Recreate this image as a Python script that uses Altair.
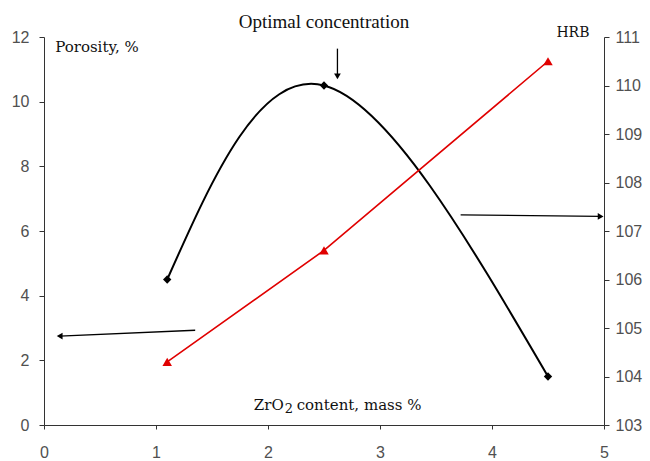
import altair as alt
import pandas as pd

# ---- data ----
zro2 = [1.1, 2.5, 4.5]
porosity = [4.5, 10.5, 1.5]
hrb = [104.3, 106.6, 110.5]

x_ticks = [0, 1, 2, 3, 4, 5]
left_ticks = [0, 2, 4, 6, 8, 10, 12]
right_ticks = [103, 104, 105, 106, 107, 108, 109, 110, 111]

# annotation arrows (in x / porosity units): tail -> head
arrow_x = [1.35, 3.72, 2.62]
arrow_y = [2.93, 6.5, 11.64]
arrow_x2 = [0.14, 4.97, 2.62]
arrow_y2 = [2.75, 6.45, 10.78]
arrow_shape = ["triangle-left", "triangle-right", "triangle-down"]

# annotation texts
label_text = ["Optimal concentration", "Porosity, %", "HRB"]
label_x = [2.5, 0.1, 4.87]
label_y = [12.45, 11.7, 12.13]
label_align = ["center", "left", "right"]
label_font = ["Liberation Serif", "DejaVu Serif", "DejaVu Serif"]
label_size = [19, 15, 14]

# x-axis title, written inside the plot with a true subscript
xtitle_parts = ["ZrO", "2", "content, mass %"]
xtitle_x = 2.14
xtitle_y = 0.62

df = pd.DataFrame({"x": zro2, "porosity": porosity, "hrb": hrb})
arrows = pd.DataFrame({"x": arrow_x, "y": arrow_y, "x2": arrow_x2, "y2": arrow_y2, "shape": arrow_shape})
labels = pd.DataFrame({"text": label_text, "x": label_x, "y": label_y, "align": label_align,
                       "font": label_font, "fs": label_size})
xtitle = pd.DataFrame({"part": xtitle_parts, "x": [xtitle_x] * 3, "y": [xtitle_y] * 3})

SANS = "Liberation Sans"
LBL = "#505050"

xscale = alt.Scale(domain=[0, 5], nice=False, zero=False)
lscale = alt.Scale(domain=[0, 12], nice=False, zero=False)
rscale = alt.Scale(domain=[103, 111], nice=False, zero=False)

xaxis = alt.Axis(values=x_ticks, format="d", title=None, grid=False, tickSize=4, labelPadding=15,
                 labelFont=SANS, labelFontSize=16, labelColor=LBL, domainColor="#333",
                 tickColor="#333", labelFlush=False)
laxis = alt.Axis(values=left_ticks, format="d", title=None, grid=False, tickSize=5, labelPadding=10,
                 labelFont=SANS, labelFontSize=16, labelColor=LBL, domainColor="#333",
                 tickColor="#333", orient="left")
raxis = alt.Axis(values=right_ticks, format="d", title=None, grid=False, tickSize=5, labelPadding=6,
                 labelFont=SANS, labelFontSize=16, labelColor=LBL, domainColor="#333",
                 tickColor="#333", orient="right")

base = alt.Chart(df)

por_line = base.mark_line(color="black", strokeWidth=2, interpolate="natural").encode(
    x=alt.X("x:Q", scale=xscale, axis=xaxis),
    y=alt.Y("porosity:Q", scale=lscale, axis=laxis),
)
por_pts = base.mark_point(shape="diamond", filled=True, color="black", size=70, opacity=1).encode(
    x=alt.X("x:Q", scale=xscale),
    y=alt.Y("porosity:Q", scale=lscale),
)

arrow_lines = alt.Chart(arrows).mark_rule(color="black", strokeWidth=1.3).encode(
    x=alt.X("x:Q", scale=xscale),
    y=alt.Y("y:Q", scale=lscale),
    x2="x2:Q",
    y2="y2:Q",
)
arrow_heads = alt.Chart(arrows).mark_point(filled=True, color="black", size=45, opacity=1).encode(
    x=alt.X("x2:Q", scale=xscale),
    y=alt.Y("y2:Q", scale=lscale),
    shape=alt.Shape("shape:N", scale=None),
)


def text_layer(al, fnt):
    return alt.Chart(labels).transform_filter(
        (alt.datum.align == al) & (alt.datum.font == fnt)
    ).mark_text(font=fnt, color="#111", baseline="middle", align=al).encode(
        x=alt.X("x:Q", scale=xscale),
        y=alt.Y("y:Q", scale=lscale),
        text="text:N",
        size=alt.Size("fs:Q", scale=None),
    )


text_layers = [text_layer(a, f) for a, f in sorted(set(zip(label_align, label_font)))]


def xtitle_layer(idx, **style):
    return alt.Chart(xtitle).transform_filter(alt.datum.part == xtitle_parts[idx]).mark_text(
        font="DejaVu Serif", color="#111", baseline="middle", **style
    ).encode(
        x=alt.X("x:Q", scale=xscale),
        y=alt.Y("y:Q", scale=lscale),
        text="part:N",
    )


xtitle_layers = [
    xtitle_layer(0, align="right", fontSize=15),
    xtitle_layer(1, align="left", fontSize=13, dx=1, dy=4),
    xtitle_layer(2, align="left", fontSize=15, dx=13),
]

left = alt.layer(por_line, por_pts, arrow_lines, arrow_heads, *text_layers, *xtitle_layers)

hrb_line = base.mark_line(color="#e00000", strokeWidth=1.6).encode(
    x=alt.X("x:Q", scale=xscale),
    y=alt.Y("hrb:Q", scale=rscale, axis=raxis),
)
hrb_pts = base.mark_point(shape="triangle-up", filled=True, color="#e00000", size=90, opacity=1).encode(
    x=alt.X("x:Q", scale=xscale),
    y=alt.Y("hrb:Q", scale=rscale),
)
right = alt.layer(hrb_line, hrb_pts)

chart = alt.layer(left, right).resolve_scale(y="independent").properties(
    width=560, height=388,
    autosize=alt.AutoSizeParams(type="none"),
    padding={"left": 44, "top": 37, "right": 46, "bottom": 36},
    background="white",
).configure_view(strokeWidth=0)

chart.save("out.html", embed_options={"renderer": "svg", "actions": False})
